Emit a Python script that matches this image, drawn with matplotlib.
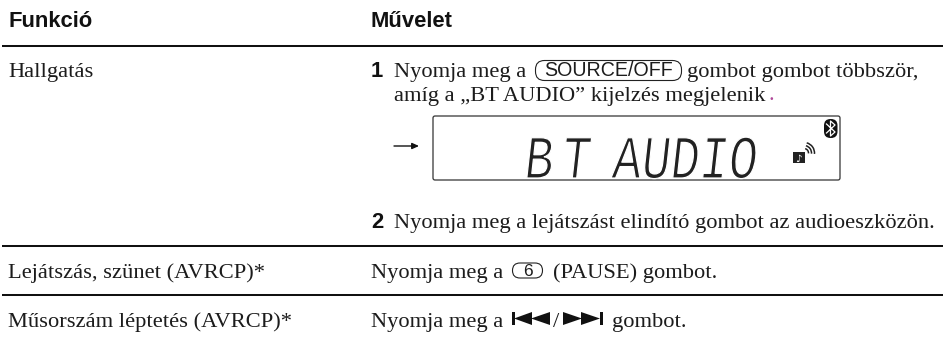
import matplotlib
matplotlib.use('Agg')
import matplotlib.pyplot as plt
import matplotlib.patheffects as pe
from matplotlib.patches import FancyBboxPatch, Polygon, Arc, Rectangle
from matplotlib.transforms import Affine2D

# Table content
headers = ['Funkció', 'Művelet']
functions = ['Hallgatás', 'Lejátszás, szünet (AVRCP)*', 'Műsorszám léptetés (AVRCP)*']
step_numbers = ['1', '2']
lcd_words = ['B', 'T', 'AUDIO']
lcd_left = [523, 560, 611]

SERIF = 'Liberation Serif'
SANS = 'Liberation Sans'
INK = '#1c1c1c'
BODY = 16.2
HEAD = 15.8


class Squeeze(pe.AbstractPathEffect):
    # narrows, leans and thins the glyphs so they look like the display font
    def __init__(self, sx, skew, erode):
        super().__init__()
        self.tr = Affine2D().skew_deg(skew, 0).scale(sx, 1)
        self.erode = erode

    def draw_path(self, renderer, gc, tpath, affine, rgbFace=None):
        gc0 = renderer.new_gc()
        gc0.copy_properties(gc)
        gc0.set_foreground('white')
        gc0.set_linewidth(self.erode)
        renderer.draw_path(gc0, tpath, self.tr + affine, rgbFace)
        gc0.restore()


fig = plt.figure(figsize=(9.43, 3.40), dpi=100)
ax = fig.add_axes([0, 0, 1, 1])
ax.set_xlim(0, 943)
ax.set_ylim(340, 0)
ax.axis('off')


def body(x, y, s, color=INK):
    ax.text(x, y, s, family=SERIF, fontsize=BODY, color=color, va='baseline', ha='left')


# Header and rules
ax.text(8, 27, headers[0], family=SANS, weight='bold', fontsize=HEAD, color='#111111', va='baseline')
ax.text(371, 27, headers[1], family=SANS, weight='bold', fontsize=HEAD, color='#111111', va='baseline')
for y in [45.5, 246, 295]:
    ax.plot([2, 943], [y, y], color='#111111', lw=1.45, solid_capstyle='butt')

# Left column
body(8, 77, functions[0])
body(8, 278, functions[1])
body(8, 327, functions[2])

# Right column
ax.text(371, 77, step_numbers[0], family=SANS, weight='bold', fontsize=HEAD, color='#111111', va='baseline')
ax.text(371, 228, step_numbers[1], family=SANS, weight='bold', fontsize=HEAD, color='#111111', va='baseline')
body(394, 77, 'Nyomja meg a')
ax.add_patch(FancyBboxPatch((535.5, 60.5), 146, 20, boxstyle='round,pad=0,rounding_size=9', fill=False, ec='#222222', lw=0.8))
ax.text(608.5, 76, 'SOURCE/OFF', family=SANS, fontsize=14.1, color=INK, ha='center', va='baseline')
body(687, 77, 'gombot gombot többször,')
body(394, 100.5, 'amíg a „BT AUDIO” kijelzés megjelenik')
body(768.5, 100.5, '.', color='#b04a9a')
body(394, 228, 'Nyomja meg a lejátszást elindító gombot az audioeszközön.')
body(371, 278, 'Nyomja meg a')
body(553, 278, '(PAUSE) gombot.')
body(371, 327, 'Nyomja meg a')
body(612, 327, 'gombot.')

# Circled 6
ax.add_patch(FancyBboxPatch((512.5, 263), 30, 15, boxstyle='round,pad=0,rounding_size=7.5', fill=False, ec='#222222', lw=0.8))
ax.text(527.5, 276, '6', family=SANS, fontsize=12.5, color=INK, ha='center', va='baseline')

# Skip buttons
y0, y1, ym = 312, 325, 318.5
ax.add_patch(Rectangle((512, y0), 2.5, y1 - y0, color='#111111', lw=0))
ax.add_patch(Polygon([(514, ym), (532, y0), (532, y1)], color='#111111', lw=0))
ax.add_patch(Polygon([(531, ym), (550, y0), (550, y1)], color='#111111', lw=0))
body(553, 327, '/')
ax.add_patch(Polygon([(563, y0), (582, ym), (563, y1)], color='#111111', lw=0))
ax.add_patch(Polygon([(581, y0), (600, ym), (581, y1)], color='#111111', lw=0))
ax.add_patch(Rectangle((600, y0), 3, y1 - y0, color='#111111', lw=0))

# Arrow
ax.annotate('', xy=(419, 146), xytext=(394, 146),
            arrowprops=dict(arrowstyle='-|>,head_length=0.4,head_width=0.18', color='#111111', lw=1.0,
                            shrinkA=0, shrinkB=0))

# LCD panel
ax.add_patch(FancyBboxPatch((433, 116), 407, 64, boxstyle='round,pad=0,rounding_size=2', fill=False, ec='#333333', lw=0.9))
for word, x in zip(lcd_words, lcd_left):
    ax.text(x, 178, word, family='Liberation Mono', fontsize=44, color='#222222', va='baseline', ha='left',
            path_effects=[Squeeze(0.79, 8, 0.9)])
# segment gaps
for gap_y in [143, 157.5, 172.5]:
    ax.plot([520, 768], [gap_y, gap_y], color='white', lw=0.8)

# Bluetooth badge
ax.add_patch(FancyBboxPatch((824, 119), 13.5, 19, boxstyle='round,pad=0,rounding_size=6.5', color='#111111', lw=0))
ax.plot([826.5, 835, 830.5, 830.5, 835, 826.5], [124, 132, 136, 121, 125, 133], color='white', lw=0.9)

# Audio icon
ax.add_patch(Rectangle((793, 152), 12, 11, color='#222222', lw=0))
ax.text(798.5, 162, '♪', family='DejaVu Sans', fontsize=7.5, color='white', ha='center', va='baseline')
for d in [9, 15, 21]:
    ax.add_patch(Arc((804, 153), d, d, theta1=-75, theta2=5, color='#222222', lw=1.1))

fig.savefig('out.png', dpi=100)
